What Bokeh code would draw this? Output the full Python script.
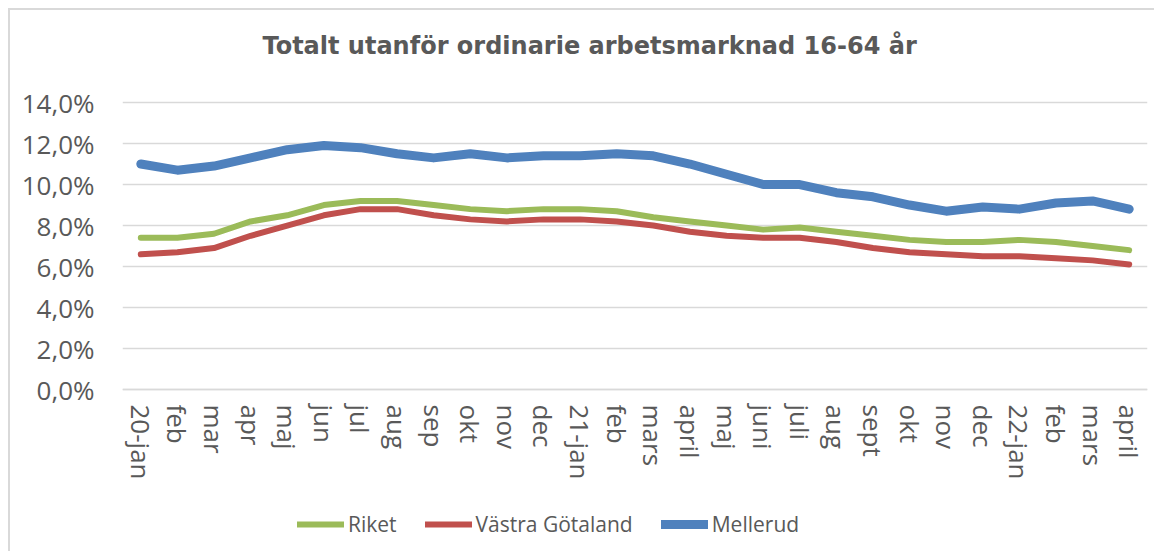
from bokeh.plotting import figure
from bokeh.models import Range1d, FixedTicker, Legend, LegendItem, Label
from bokeh.embed import file_html
from bokeh.resources import INLINE

months = ["20-jan", "feb", "mar", "apr", "maj", "jun", "jul", "aug", "sep", "okt", "nov", "dec",
          "21-jan", "feb", "mars", "april", "maj", "juni", "juli", "aug", "sept", "okt", "nov", "dec",
          "22-jan", "feb", "mars", "april"]

riket = [7.4, 7.4, 7.6, 8.2, 8.5, 9.0, 9.2, 9.2, 9.0, 8.8, 8.7, 8.8, 8.8, 8.7, 8.4, 8.2,
         8.0, 7.8, 7.9, 7.7, 7.5, 7.3, 7.2, 7.2, 7.3, 7.2, 7.0, 6.8]
vastra = [6.6, 6.7, 6.9, 7.5, 8.0, 8.5, 8.8, 8.8, 8.5, 8.3, 8.2, 8.3, 8.3, 8.2, 8.0, 7.7,
          7.5, 7.4, 7.4, 7.2, 6.9, 6.7, 6.6, 6.5, 6.5, 6.4, 6.3, 6.1]
mellerud = [11.0, 10.7, 10.9, 11.3, 11.7, 11.9, 11.8, 11.5, 11.3, 11.5, 11.3, 11.4, 11.4, 11.5,
            11.4, 11.0, 10.5, 10.0, 10.0, 9.6, 9.4, 9.0, 8.7, 8.9, 8.8, 9.1, 9.2, 8.8]

y_ticks = [0, 2, 4, 6, 8, 10, 12, 14]
y_labels = ["0,0%", "2,0%", "4,0%", "6,0%", "8,0%", "10,0%", "12,0%", "14,0%"]
title_text = "Totalt utanför ordinarie arbetsmarknad 16-64 år"

xs = list(range(len(months)))

# frame spans the full figure height; the 0-14 % band keeps the reference's scale
p = figure(width=1146, height=543, output_backend="svg", toolbar_location=None,
           x_range=Range1d(-0.5, len(months) - 0.5), y_range=Range1d(-8.0, 18.49),
           min_border_left=112, min_border_right=9, min_border_top=0, min_border_bottom=0)
p.styles = {"border-left": "2px solid #d9d9d9", "border-top": "2px solid #d9d9d9",
            "margin-left": "8px", "margin-top": "8px"}
p.outline_line_color = None
p.background_fill_color = "white"
p.border_fill_color = "white"

gray = "#595959"
p.xaxis.fixed_location = 0
p.xaxis.ticker = FixedTicker(ticks=xs)
p.xaxis.major_label_overrides = {i: m for i, m in enumerate(months)}
p.xaxis.major_label_orientation = "vertical"
p.xaxis.major_label_text_font = "Open Sans"
p.xaxis.major_label_text_font_size = "26px"
p.xaxis.major_label_text_color = gray
p.xaxis.axis_line_color = "#d9d9d9"
p.xaxis.axis_line_width = 1.5
p.xaxis.major_tick_line_color = None
p.xaxis.minor_tick_line_color = None
p.xaxis.major_label_standoff = 9

p.yaxis.ticker = FixedTicker(ticks=y_ticks)
p.yaxis.major_label_overrides = {t: l for t, l in zip(y_ticks, y_labels)}
p.yaxis.major_label_text_font = "Open Sans"
p.yaxis.major_label_text_font_size = "26px"
p.yaxis.major_label_text_color = gray
p.yaxis.axis_line_color = None
p.yaxis.major_tick_line_color = None
p.yaxis.minor_tick_line_color = None
p.yaxis.major_label_standoff = 22

p.xgrid.grid_line_color = None
p.ygrid.grid_line_color = "#d9d9d9"
p.ygrid.grid_line_width = 1.5

r1 = p.line(xs, riket, line_color="#9BBB59", line_width=6, line_cap="round", line_join="round")
r2 = p.line(xs, vastra, line_color="#C0504D", line_width=6, line_cap="round", line_join="round")
r3 = p.line(xs, mellerud, line_color="#4F81BD", line_width=9, line_cap="round", line_join="round")

title = Label(x=12.26, y=16.78, text=title_text, text_align="center", text_baseline="middle",
              text_font="DejaVu Sans", text_font_style="bold", text_font_size="24px",
              text_color=gray)
p.add_layout(title)

legend = Legend(items=[LegendItem(label="Riket", renderers=[r1]),
                       LegendItem(label="Västra Götaland", renderers=[r2]),
                       LegendItem(label="Mellerud", renderers=[r3])],
                orientation="horizontal", location=(175, 15),
                glyph_width=47, label_standoff=4, spacing=28, padding=0, margin=0,
                label_text_font="Open Sans", label_text_font_size="21px", label_text_color=gray,
                border_line_color=None, background_fill_alpha=0)
p.add_layout(legend, "center")

open("out.html", "w").write(file_html(p, INLINE))
